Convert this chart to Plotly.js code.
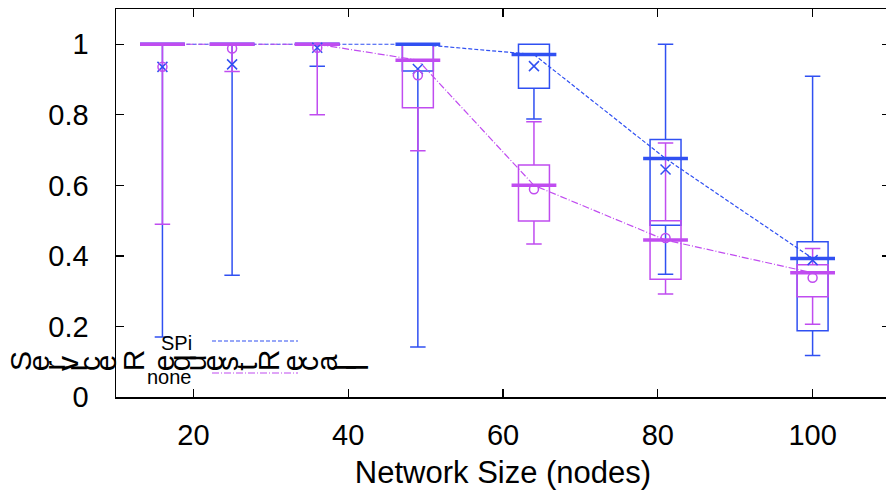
<!DOCTYPE html>
<html>
<head>
<meta charset="utf-8">
<script src="https://cdn.plot.ly/plotly-3.0.1.min.js"></script>
<style>
html,body{margin:0;padding:0;overflow:hidden;background:#fff;}
#chart{width:900px;height:497px;}
</style>
</head>
<body>
<div id="chart"></div>
<script>
// ---- data ----
const sizes = [16, 25, 36, 49, 64, 81, 100];

const spiQ1     = [1, 1, 1, 0.924, 0.875, 0.487, 0.188];
const spiMedian = [1, 1, 1, 1.0,   0.971, 0.676, 0.393];
const spiQ3     = [1, 1, 1, 1.0,   1.0,   0.730, 0.440];
const spiLow    = [0.170, 0.345, 0.938, 0.142, 0.788, 0.348, 0.118];
const spiHigh   = [1, 1, 1, 1, 1, 1, 0.909];
const spiMean   = [0.936, 0.943, 0.990, 0.930, 0.938, 0.645, 0.388];

const noneQ1     = [1, 1, 1, 0.820, 0.499, 0.334, 0.284];
const noneMedian = [1, 1, 1, 0.955, 0.600, 0.445, 0.352];
const noneQ3     = [1, 1, 1, 1.0,   0.658, 0.500, 0.375];
const noneLow    = [0.490, 0.923, 0.800, 0.698, 0.434, 0.292, 0.206];
const noneHigh   = [1, 1, 1, 1, 0.780, 0.720, 0.421];
const noneMean   = [0.936, 0.988, 0.990, 0.912, 0.589, 0.451, 0.338];

const seriesNames = ['SPi', 'none'];
const yLabel = 'ServiceRequestRecall';
const xLabel = 'Network Size (nodes)';

// ---- styling ----
const BLUE = '#3050f2';
const PURPLE = '#c04cf0';
const FONT = '"Liberation Sans", Arial, sans-serif';

// plot area in pixels
const L = 116, R = 890, T = 9, B = 397;
const xp = px => (px - L) / (R - L);
const yp = py => (B - py) / (B - T);

function boxTrace(q1, med, q3, lo, hi, color) {
  return {
    type: 'box', x: sizes, q1: q1, median: med, q3: q3,
    lowerfence: lo, upperfence: hi, boxpoints: false,
    width: 4, whiskerwidth: 0.5,
    fillcolor: 'rgba(0,0,0,0)',
    line: {color: color, width: 1.5},
    showlegend: false, hoverinfo: 'skip'
  };
}

const traces = [
  boxTrace(spiQ1, spiMedian, spiQ3, spiLow, spiHigh, BLUE),
  boxTrace(noneQ1, noneMedian, noneQ3, noneLow, noneHigh, PURPLE),
  {type: 'scatter', mode: 'lines', x: sizes, y: spiMedian, name: seriesNames[0],
   line: {color: BLUE, width: 1.2, dash: '4px,2px'}, showlegend: false},
  {type: 'scatter', mode: 'lines', x: sizes, y: noneMedian, name: seriesNames[1],
   line: {color: PURPLE, width: 1.2, dash: '7px,2px,1px,2px'}, showlegend: false},
  {type: 'scatter', mode: 'markers', x: sizes, y: spiMedian, showlegend: false,
   marker: {symbol: 'line-ew', size: 32, line: {color: BLUE, width: 3.5}}},
  {type: 'scatter', mode: 'markers', x: sizes, y: noneMedian, showlegend: false,
   marker: {symbol: 'line-ew', size: 32, line: {color: PURPLE, width: 3.5}}},
  {type: 'scatter', mode: 'markers', x: sizes, y: spiMean, showlegend: false,
   marker: {symbol: 'x-thin', size: 10, line: {color: BLUE, width: 1.5}}},
  {type: 'scatter', mode: 'markers', x: sizes, y: noneMean, showlegend: false,
   marker: {symbol: 'circle-open', size: 9, color: PURPLE, line: {color: PURPLE, width: 1.5}}}
];

// broken y-label: each character rotated, laid out horizontally
const LBL_SIZE = 30;
const labelCenters = [21, 41, 57, 70, 79, 92, 108, 133, 166, 182, 198, 215, 230, 247, 268, 295, 310, 329, 346, 358];
const advance = {S:0.667, e:0.556, r:0.333, v:0.5, i:0.222, c:0.5, R:0.722, q:0.556, u:0.556, s:0.5, t:0.278, a:0.556, l:0.222};
const tallChars = 'SRlt';
const annotations = [];
yLabel.split('').forEach((ch, i) => {
  const cy = 371 - (advance[ch] || 0.5) * LBL_SIZE / 2;
  const cx = labelCenters[i] - (tallChars.indexOf(ch) >= 0 ? 0 : 2.5);
  annotations.push({
    xref: 'paper', yref: 'paper', x: xp(cx), y: yp(cy),
    text: ch, textangle: -90, showarrow: false,
    xanchor: 'center', yanchor: 'middle',
    font: {family: FONT, size: LBL_SIZE, color: '#000'}
  });
});
// legend
annotations.push({xref: 'paper', yref: 'paper', x: xp(194), y: yp(343), text: seriesNames[0],
  showarrow: false, xanchor: 'right', yanchor: 'middle', font: {family: FONT, size: 20, color: '#000'}});
annotations.push({xref: 'paper', yref: 'paper', x: xp(194), y: yp(377), text: seriesNames[1],
  showarrow: false, xanchor: 'right', yanchor: 'middle', font: {family: FONT, size: 20, color: '#000'}});

const shapes = [
  {type: 'line', xref: 'paper', yref: 'paper', x0: xp(212), x1: xp(298), y0: yp(341), y1: yp(341),
   line: {color: BLUE, width: 1.2, dash: '4px,2px'}},
  {type: 'line', xref: 'paper', yref: 'paper', x0: xp(212), x1: xp(298), y0: yp(373), y1: yp(373),
   line: {color: PURPLE, width: 1.2, dash: '7px,2px,1px,2px'}}
];

const layout = {
  width: 900, height: 497,
  margin: {l: L, r: 900 - R, t: T, b: 497 - B},
  paper_bgcolor: '#fff', plot_bgcolor: '#fff',
  boxmode: 'overlay', showlegend: false,
  font: {family: FONT, size: 29, color: '#000'},
  xaxis: {
    range: [10, 110], tick0: 0, dtick: 20, showgrid: false, zeroline: false,
    showline: true, linecolor: '#000', linewidth: 1.5, mirror: 'allticks',
    ticks: 'inside', ticklen: 8, tickwidth: 1.3, tickcolor: '#000',
    ticklabelstandoff: 12,
    tickfont: {family: FONT, size: 29, color: '#000'},
    title: {text: xLabel, font: {family: FONT, size: 31, color: '#000'}, standoff: 11}
  },
  yaxis: {
    range: [0, 1.1], tick0: 0, dtick: 0.2, showgrid: false, zeroline: false,
    showline: true, linecolor: '#000', linewidth: 1.5, mirror: 'allticks',
    ticks: 'inside', ticklen: 8, tickwidth: 1.3, tickcolor: '#000',
    ticklabelstandoff: 20,
    tickfont: {family: FONT, size: 29, color: '#000'}
  },
  annotations: annotations,
  shapes: shapes
};

Plotly.newPlot('chart', traces, layout, {staticPlot: true, displayModeBar: false});
</script>
</body>
</html>
